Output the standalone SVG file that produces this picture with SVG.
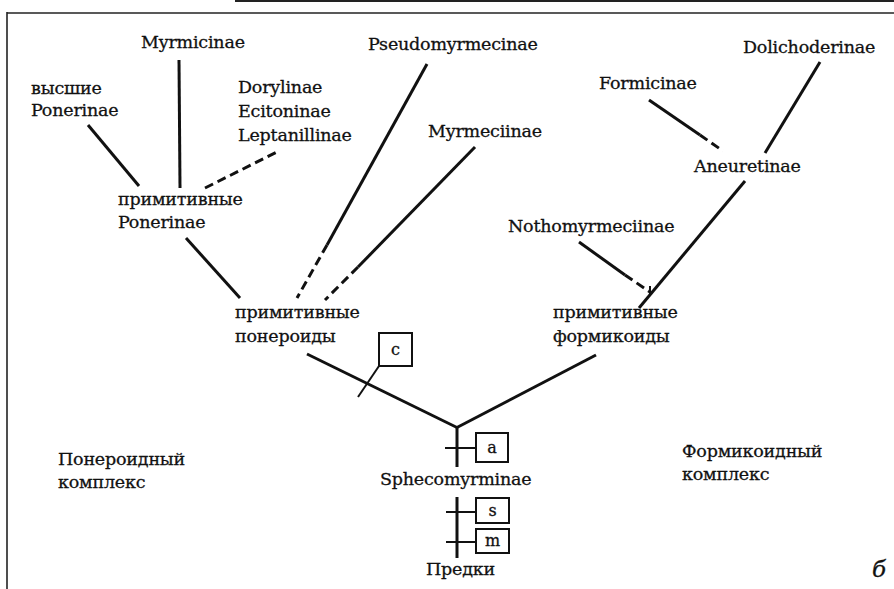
<svg xmlns="http://www.w3.org/2000/svg" width="894" height="589" viewBox="0 0 894 589">
<style>
text{font-family:"DejaVu Serif","Liberation Serif",serif;font-size:17.5px;letter-spacing:-0.2px;fill:#111;stroke:#111;stroke-width:0.3}
.ln{stroke:#111;stroke-width:3;fill:none;stroke-linecap:butt}
.ds{stroke:#111;stroke-width:3;fill:none;stroke-dasharray:9 5}
.tk{stroke:#111;stroke-width:2;fill:none}
.bx{stroke:#111;stroke-width:2;fill:#fff}
.bt{text-anchor:middle;font-size:16px;letter-spacing:0}
.fr{stroke:#222;fill:none}
</style>
<rect width="894" height="589" fill="#fff"/>
<g id="frame">
<line class="fr" x1="235" y1="1" x2="894" y2="1" stroke-width="2"/>
<line class="fr" x1="7" y1="13" x2="894" y2="13" stroke-width="1.6"/>
<line class="fr" x1="7" y1="12" x2="7" y2="589" stroke-width="1.6"/>
</g>
<g id="connectors">
<line class="ln" x1="88" y1="125" x2="139" y2="186"/>
<line class="ln" x1="179" y1="60" x2="180" y2="188"/>
<line class="ds" x1="205" y1="188" x2="279" y2="151"/>
<line class="ln" x1="186" y1="238" x2="240" y2="298"/>
<line class="ln" x1="427" y1="64" x2="327" y2="245"/>
<line class="ds" x1="327" y1="245" x2="297" y2="298"/>
<line class="ln" x1="475" y1="147" x2="358" y2="267"/>
<line class="ds" x1="358" y1="267" x2="325" y2="300"/>
<line class="ln" x1="820" y1="62" x2="765" y2="153"/>
<line class="ln" x1="649" y1="100" x2="700" y2="135"/>
<line class="ds" x1="700" y1="135" x2="723" y2="151"/>
<line class="ln" x1="745" y1="181" x2="639" y2="308"/>
<line class="ln" x1="579" y1="242" x2="625" y2="275"/>
<line class="ds" x1="625" y1="275" x2="650" y2="292"/>
<line class="tk" x1="650" y1="286" x2="650" y2="294"/>
<line class="ln" x1="307" y1="354" x2="458" y2="428"/>
<line class="ln" x1="596" y1="355" x2="456" y2="428"/>
<line class="ln" x1="457" y1="427" x2="457" y2="467"/>
<line class="ln" x1="457" y1="497" x2="457" y2="558"/>
<line class="tk" x1="379" y1="366" x2="358" y2="397"/>
<line class="tk" x1="445" y1="448" x2="476" y2="448"/>
<line class="tk" x1="446" y1="512" x2="476" y2="512"/>
<line class="tk" x1="446" y1="542" x2="476" y2="542"/>
</g>
<g id="n-vysshie"><text x="31" y="94">высшие</text><text x="31" y="116">Ponerinae</text></g>
<g id="n-myrmicinae"><text x="141" y="48">Myrmicinae</text></g>
<g id="n-dorylinae"><text x="238" y="93">Dorylinae</text><text x="238" y="117">Ecitoninae</text><text x="238" y="141">Leptanillinae</text></g>
<g id="n-prim-ponerinae"><text x="118" y="205">примитивные</text><text x="118" y="228">Ponerinae</text></g>
<g id="n-pseudomyrmecinae"><text x="368" y="50">Pseudomyrmecinae</text></g>
<g id="n-myrmeciinae"><text x="428" y="137">Myrmeciinae</text></g>
<g id="n-dolichoderinae"><text x="743" y="53">Dolichoderinae</text></g>
<g id="n-formicinae"><text x="599" y="89">Formicinae</text></g>
<g id="n-aneuretinae"><text x="694" y="172">Aneuretinae</text></g>
<g id="n-nothomyrmeciinae"><text x="508" y="232">Nothomyrmeciinae</text></g>
<g id="n-prim-poneroids"><text x="235" y="318">примитивные</text><text x="235" y="342">понероиды</text></g>
<g id="n-prim-formicoids"><text x="553" y="318">примитивные</text><text x="553" y="342">формикоиды</text></g>
<g id="n-box-c"><rect class="bx" x="379" y="333" width="33" height="33"/><text class="bt" x="395.5" y="355">c</text></g>
<g id="n-box-a"><rect class="bx" x="476" y="433" width="32" height="29"/><text class="bt" x="492" y="453">a</text></g>
<g id="n-sphecomyrminae"><text x="380" y="485">Sphecomyrminae</text></g>
<g id="n-box-s"><rect class="bx" x="476" y="498" width="33" height="25"/><text class="bt" x="492.5" y="516">s</text></g>
<g id="n-box-m"><rect class="bx" x="476" y="529" width="33" height="24"/><text class="bt" x="492.5" y="546">m</text></g>
<g id="n-predki"><text x="426" y="575">Предки</text></g>
<g id="n-poneroid-complex"><text x="58" y="465">Понероидный</text><text x="58" y="488">комплекс</text></g>
<g id="n-formicoid-complex"><text x="682" y="457">Формикоидный</text><text x="682" y="480">комплекс</text></g>
<g id="n-label-b"><text x="872" y="577" style="font-size:23px;font-style:italic;letter-spacing:0">б</text></g>
</svg>
